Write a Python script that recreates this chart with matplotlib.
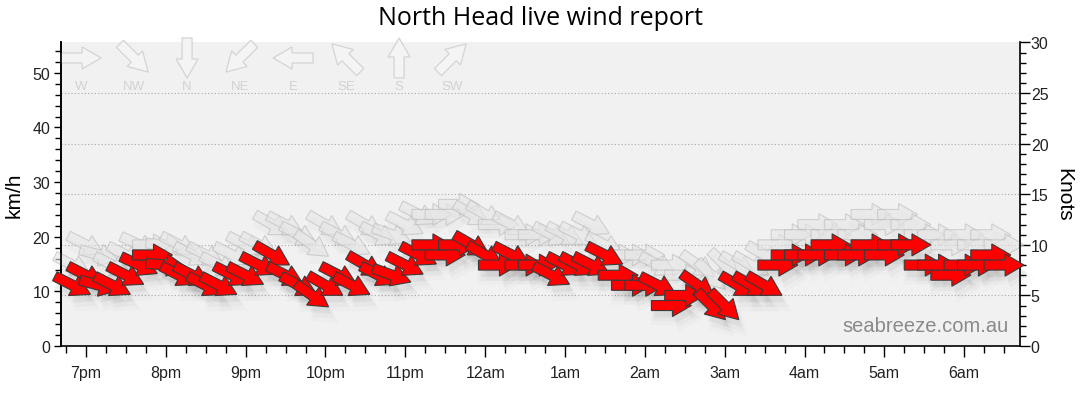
import numpy as np
import pandas as pd
import matplotlib
matplotlib.use('Agg')
import matplotlib.pyplot as plt
import matplotlib.dates as mdates
from matplotlib import transforms
from matplotlib.patches import Polygon
from matplotlib.ticker import MultipleLocator, FuncFormatter

# 10 minute observations, 18:50 -> 06:30
times = pd.date_range('2024-01-01 18:50', '2024-01-02 06:30', freq='10min')

# sustained wind (knots)
wind_kn = [6, 7, 6, 6, 7, 8, 9, 8, 7, 7,
           6, 6, 7, 7, 8, 9, 7, 6, 5, 6,
           7, 6, 8, 7, 7, 8, 9, 10, 9, 10,
           10, 9, 8, 9, 8, 8, 7, 8, 8, 8,
           9, 7, 6, 6, 6, 4, 5, 6, 4, 4,
           6, 6, 6, 8, 9, 9, 9, 10, 9, 9,
           10, 9, 10, 10, 8, 8, 7, 8, 8, 9,
           8]
# gusts (knots)
gust_kn = [8, 10, 9, 8, 9, 10, 10, 10, 10, 9,
           9, 8, 9, 10, 10, 12, 12, 11, 10, 12,
           11, 10, 12, 11, 11, 12, 13, 13, 13, 14,
           13, 13, 12, 12, 11, 11, 11, 11, 11, 12,
           10, 9, 9, 9, 8, 8, 7, 8, 7, 8,
           8, 8, 9, 10, 11, 11, 12, 11, 12, 11,
           13, 12, 13, 12, 11, 11, 10, 11, 10, 11,
           10]
# direction the wind comes from (degrees)
wind_dir = [297, 297, 285, 297, 297, 295, 270, 275, 297, 297,
            297, 297, 297, 297, 297, 300, 297, 297, 305, 300,
            297, 297, 300, 297, 290, 297, 297, 270, 270, 270,
            300, 300, 270, 297, 270, 270, 297, 297, 297, 297,
            297, 270, 270, 270, 297, 270, 270, 305, 315, 315,
            300, 300, 300, 270, 270, 270, 270, 270, 270, 270,
            270, 270, 270, 270, 270, 270, 270, 270, 270, 270,
            270]

compass_names = ['W', 'NW', 'N', 'NE', 'E', 'SE', 'S', 'SW']
compass_deg = [270, 315, 0, 45, 90, 135, 180, 225]

KMH = 1.852
DPI = 100

# arrow outline in pixels, centred on the point, pointing to +x
ARROW = np.array([[-20, -5], [1, -5], [1, -11], [20, 0],
                  [1, 11], [1, 5], [-20, 5]], dtype=float)

fig = plt.figure(figsize=(10.8, 4.14), dpi=DPI)
ax = fig.add_axes([0.0568, 0.1618, 0.8874, 0.7332])
ax.set_facecolor('#f1f1f1')


def arrow(x, y, frm, base, dx=0, dy=0, grow=1.0, **kw):
    ang = -90 - frm
    tr = (transforms.Affine2D().scale(grow).rotate_deg(ang).translate(dx, dy)
          .scale(1 / DPI)
          + fig.dpi_scale_trans + transforms.ScaledTranslation(x, y, base))
    p = Polygon(ARROW, closed=True, transform=tr, clip_on=False, **kw)
    ax.add_patch(p)


xs = mdates.date2num(times)
ax.set_xlim(mdates.date2num(pd.Timestamp('2024-01-01 18:41:30')),
            mdates.date2num(pd.Timestamp('2024-01-02 06:41:45')))
ax.set_ylim(0, 30)

# gusts
for x, g, d in zip(xs, gust_kn, wind_dir):
    arrow(x, g, d, ax.transData, dx=2, dy=-8, grow=1.1, facecolor='#000000',
          alpha=0.02, edgecolor='none', zorder=2)
for x, g, d in zip(xs, gust_kn, wind_dir):
    arrow(x, g, d, ax.transData, facecolor='#e6e6e6', alpha=0.6,
          edgecolor='#bababa', linewidth=0.8, zorder=2.5)

# shadows of wind arrows
for x, w, d in zip(xs, wind_kn, wind_dir):
    arrow(x, w, d, ax.transData, dx=3, dy=-7, facecolor='#000000', alpha=0.04,
          edgecolor='none', zorder=3)
    arrow(x, w, d, ax.transData, dx=4, dy=-10, grow=1.15, facecolor='#000000',
          alpha=0.025, edgecolor='none', zorder=3)
    arrow(x, w, d, ax.transData, dx=5, dy=-13, grow=1.3, facecolor='#000000',
          alpha=0.015, edgecolor='none', zorder=3)
# wind
for x, w, d in zip(xs, wind_kn, wind_dir):
    arrow(x, w, d, ax.transData, facecolor='#ff0000', edgecolor='#3a3a3a',
          linewidth=0.8, zorder=4)

# compass key
for i, (name, deg) in enumerate(zip(compass_names, compass_deg)):
    fx = 0.0206 + 0.0553 * i
    arrow(fx, 0.949, deg, ax.transAxes, facecolor='#f4f4f4', edgecolor='#d4d4d4',
          linewidth=0.9, zorder=1.5)
    ax.text(fx, 0.857, name, transform=ax.transAxes, ha='center', va='center',
            fontsize=9.5, color='#d2d2d2', family='Liberation Sans')

# axes styling
ax.yaxis.tick_right()
ax.yaxis.set_label_position('right')
ax.set_yticks(range(0, 31, 5))
ax.yaxis.set_minor_locator(MultipleLocator(1))
ax.grid(axis='y', which='major', linestyle=(0, (1, 2)), color='#a8a8a8', linewidth=0.8)
ticks = ax.yaxis.get_major_ticks()
ticks[0].gridline.set_visible(False)
ticks[-1].gridline.set_visible(False)
ax.set_axisbelow(True)
ax.set_ylabel('Knots', rotation=270, labelpad=18, fontsize=15, family='Liberation Sans')

ax.xaxis.set_major_locator(mdates.HourLocator())
ax.xaxis.set_minor_locator(mdates.MinuteLocator(byminute=[15, 30, 45]))
ax.xaxis.set_major_formatter(FuncFormatter(
    lambda v, pos: mdates.num2date(v).strftime('%I%p').lstrip('0').lower()))

ax.spines['top'].set_visible(False)
for s in ['left', 'right', 'bottom']:
    ax.spines[s].set_color('#000000')
    ax.spines[s].set_linewidth(1.2)

ax.tick_params(axis='x', which='major', length=8, width=1, pad=6, labelsize=11.5,
               colors='#000000', labelcolor='#222222')
ax.tick_params(axis='x', which='minor', length=5, width=1)
ax.tick_params(axis='y', which='major', length=7, width=1, pad=1, labelsize=11.5,
               labelcolor='#222222')
ax.tick_params(axis='y', which='minor', length=4, width=1)

sec = ax.secondary_yaxis('left', functions=(lambda k: k * KMH, lambda v: v / KMH))
sec.set_yticks(range(0, 51, 10))
sec.yaxis.set_minor_locator(MultipleLocator(2))
sec.tick_params(axis='y', which='major', length=5, width=1, pad=3, labelsize=11.5,
                labelcolor='#222222')
sec.tick_params(axis='y', which='minor', length=4, width=1)
sec.spines['left'].set_linewidth(1.2)
sec.set_ylabel('km/h', fontsize=15, labelpad=6, family='Liberation Sans')

for lab in ax.get_xticklabels() + ax.get_yticklabels() + sec.get_yticklabels():
    lab.set_family('Liberation Sans')

ax.text(0.988, 0.035, 'seabreeze.com.au', transform=ax.transAxes, ha='right',
        va='bottom', fontsize=14.5, color='#8a8a8a', family='Liberation Sans', zorder=5)

fig.suptitle('North Head live wind report', x=0.5, y=0.985, fontsize=18,
             family='Open Sans')

fig.savefig('out.png', dpi=DPI)
